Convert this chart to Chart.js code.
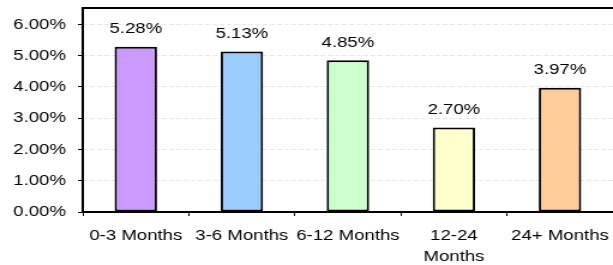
<!DOCTYPE html>
<html>
<head>
<meta charset="utf-8">
<script src="https://cdn.jsdelivr.net/npm/chart.js@4/dist/chart.umd.min.js"></script>
<style>
  html, body { margin: 0; padding: 0; background: #fff; overflow: hidden; }
  #wrap { width: 511px; height: 265px; transform-origin: 0 0; transform: scale(1.19961, 1); }
</style>
</head>
<body>
<div id="wrap"><canvas id="chart" width="511" height="265"></canvas></div>
<script>
// chart data
const categories = ['0-3 Months', '3-6 Months', '6-12 Months', ['12-24', 'Months'], '24+ Months'];
const rates = [5.28, 5.13, 4.85, 2.70, 3.97];
const barColors = ['#CC99FF', '#99CCFF', '#CCFFCC', '#FFFFCC', '#FFCC99'];
const yTicks = [0, 1, 2, 3, 4, 5, 6];

Chart.defaults.font.family = "'Liberation Sans', Arial, sans-serif";
Chart.defaults.font.size = 15.5;
Chart.defaults.color = '#000';

// Excel-style frame: left, top and bottom edges of the plot area
const plotFrame = {
    id: 'plotFrame',
    afterDatasetsDraw(chart) {
        const { ctx, chartArea: a } = chart;
        ctx.save();
        ctx.strokeStyle = '#000';
        ctx.lineWidth = 2;
        ctx.beginPath();
        ctx.moveTo(a.right + 2, a.top);
        ctx.lineTo(a.left, a.top);
        ctx.lineTo(a.left, a.bottom);
        ctx.lineTo(a.right + 2, a.bottom);
        ctx.stroke();
        ctx.restore();
    }
};

// value labels above each bar
const valueLabels = {
    id: 'valueLabels',
    afterDatasetsDraw(chart) {
        const { ctx } = chart;
        const meta = chart.getDatasetMeta(0);
        ctx.save();
        ctx.font = "15.5px 'Liberation Sans', Arial, sans-serif";
        ctx.fillStyle = '#000';
        ctx.textAlign = 'center';
        ctx.textBaseline = 'alphabetic';
        meta.data.forEach((bar, i) => {
            ctx.fillText(rates[i].toFixed(2) + '%', bar.x, bar.y - 13.5);
        });
        ctx.restore();
    }
};

new Chart(document.getElementById('chart'), {
    type: 'bar',
    data: {
        labels: categories,
        datasets: [{
            data: rates,
            backgroundColor: barColors,
            borderColor: '#000',
            borderWidth: 2,
            borderSkipped: false,
            categoryPercentage: 1,
            barPercentage: 0.4
        }]
    },
    options: {
        responsive: false,
        animation: false,
        layout: { padding: { left: 11, top: 8, right: 0, bottom: 0 } },
        plugins: {
            legend: { display: false },
            tooltip: { enabled: false }
        },
        scales: {
            x: {
                grid: {
                    offset: true,
                    drawOnChartArea: false,
                    tickLength: 4,
                    tickColor: '#000'
                },
                border: { display: false },
                ticks: {
                    padding: 10,
                    maxRotation: 0,
                    autoSkip: false,
                    font: { lineHeight: 1.3 }
                },
                afterFit(scale) {
                    scale.height = 53;
                    scale.paddingLeft = 0;
                    scale.paddingRight = 0;
                }
            },
            y: {
                min: 0,
                max: 6.52,
                grid: {
                    color: '#e8e8e8',
                    tickColor: '#000',
                    tickLength: 4
                },
                border: { display: false, dash: [4, 2] },
                ticks: {
                    padding: 10,
                    stepSize: 1,
                    callback: (v) => v.toFixed(2) + '%'
                },
                afterBuildTicks(scale) {
                    scale.ticks = yTicks.map(v => ({ value: v }));
                },
                afterFit(scale) {
                    scale.width = 58;
                    scale.paddingTop = 0;
                    scale.paddingBottom = 0;
                }
            }
        }
    },
    plugins: [plotFrame, valueLabels]
});
</script>
</body>
</html>
